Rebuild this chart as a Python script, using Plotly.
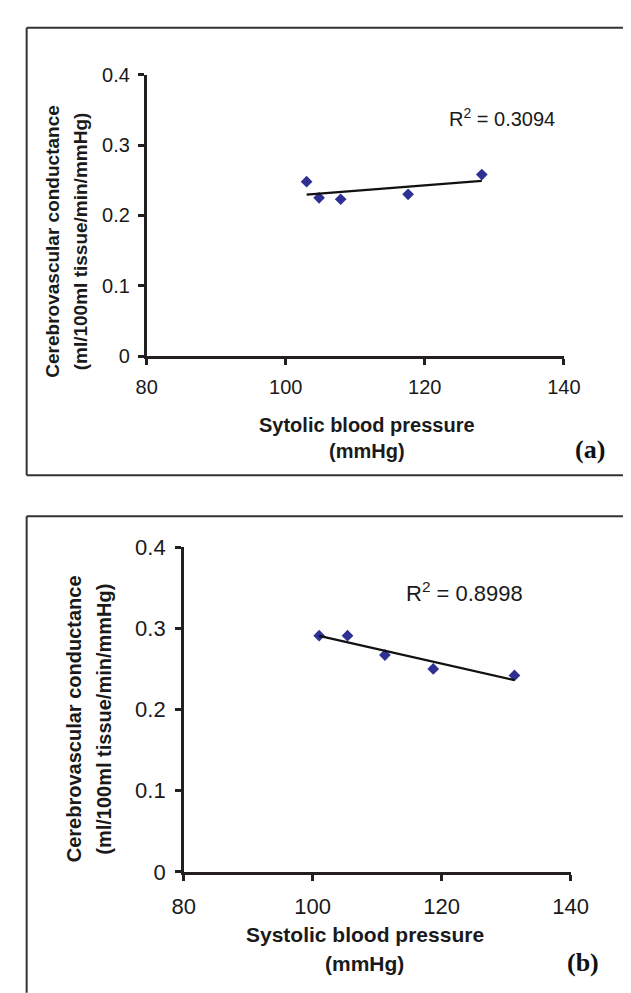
import numpy as np
import plotly.graph_objects as go

W, H = 631, 993

# ---- data ----
sbp_a = [103.0, 104.8, 107.9, 117.6, 128.2]
cvc_a = [0.248, 0.225, 0.223, 0.230, 0.258]
r2_a = "0.3094"

sbp_b = [101.0, 105.4, 111.2, 118.7, 131.3]
cvc_b = [0.291, 0.291, 0.267, 0.250, 0.242]
r2_b = "0.8998"

x_ticks = [80, 100, 120, 140]
y_ticks = [0, 0.1, 0.2, 0.3, 0.4]
y_tick_text = ["0", "0.1", "0.2", "0.3", "0.4"]

ytitle1 = "Cerebrovascular conductance"
ytitle2 = "(ml/100ml tissue/min/mmHg)"
xtitle_a = "Sytolic blood pressure"
xtitle_b = "Systolic blood pressure"
xunit = "(mmHg)"

AX = "#231f20"
MK = "#2e3192"
FONT = "Liberation Sans, Arial, sans-serif"
SERIF = "Liberation Serif, Times New Roman, serif"


def px(x):
    return x / W


def py(y):
    return 1 - y / H


fig = go.Figure()

for data_x, data_y, xa, ya in [(sbp_a, cvc_a, "x", "y"), (sbp_b, cvc_b, "x2", "y2")]:
    fig.add_trace(go.Scatter(x=data_x, y=data_y, mode="markers", xaxis=xa, yaxis=ya,
                             marker=dict(symbol="diamond", size=9, color=MK),
                             showlegend=False, hoverinfo="skip"))
    k, b = np.polyfit(data_x, data_y, 1)
    xs = np.array([min(data_x), max(data_x)])
    fig.add_trace(go.Scatter(x=xs, y=k * xs + b, mode="lines", xaxis=xa, yaxis=ya,
                             line=dict(color="#111111", width=2.2),
                             showlegend=False, hoverinfo="skip"))


def axis_style(fs, domain):
    return dict(domain=domain, showline=True, linecolor=AX, linewidth=2.5,
                ticks="outside", ticklen=6, tickwidth=2.5, tickcolor=AX,
                showgrid=False, zeroline=False, tickfont=dict(family=FONT, size=fs, color="#1a1a1a"))


xa = axis_style(20, [px(133), px(571)])
xa.update(range=[80, 140], tickvals=x_ticks, anchor="y", ticklabelstandoff=5)
ya = axis_style(20, [py(345), py(56)])
ya.update(range=[0, 0.4], tickvals=y_ticks, ticktext=y_tick_text, anchor="x", ticklabelstandoff=4)
xb = axis_style(22, [px(172), px(578)])
xb.update(range=[80, 140], tickvals=x_ticks, anchor="y2", ticklabelstandoff=7)
yb = axis_style(22, [py(874), py(540.7)])
yb.update(range=[0, 0.4], tickvals=y_ticks, ticktext=y_tick_text, anchor="x2", ticklabelstandoff=5)

annots = []


def txt(t, x, y, size, bold=False, angle=0, family=FONT, color="#1a1a1a"):
    annots.append(dict(text=("<b>%s</b>" % t) if bold else t, x=px(x), y=py(y), xref="paper", yref="paper",
                       xanchor="center", yanchor="middle", showarrow=False, textangle=angle,
                       font=dict(family=family, size=size, color=color)))


# panel a texts
txt(ytitle1, 34, 227, 19, bold=True, angle=-90)
txt(ytitle2, 63, 227, 19, bold=True, angle=-90)
txt(xtitle_a, 364, 415, 20, bold=True)
txt(xunit, 364, 442, 20, bold=True)
txt("R<sup>2</sup> = " + r2_a, 506, 100, 20)
txt("(a)", 598, 441, 26, bold=True, family=SERIF, color="#111")

# panel b texts
txt(ytitle1, 57, 717, 20, bold=True, angle=-90)
txt(ytitle2, 88, 717, 20, bold=True, angle=-90)
txt(xtitle_b, 362, 938, 21, bold=True)
txt(xunit, 362, 968, 21, bold=True)
txt("R<sup>2</sup> = " + r2_b, 467, 587, 22)
txt("(b)", 591, 967, 26, bold=True, family=SERIF, color="#111")

shapes = [
    # frame a: left, top, bottom (right edge runs off the page)
    dict(type="line", xref="paper", yref="paper", x0=px(7), x1=px(7), y0=py(8), y1=py(467),
         line=dict(color="#333", width=2)),
    dict(type="line", xref="paper", yref="paper", x0=px(7), x1=px(W + 5), y0=py(8), y1=py(8),
         line=dict(color="#333", width=2)),
    dict(type="line", xref="paper", yref="paper", x0=px(7), x1=px(W + 5), y0=py(467), y1=py(467),
         line=dict(color="#333", width=2)),
    # frame b: left, top
    dict(type="line", xref="paper", yref="paper", x0=px(7), x1=px(7), y0=py(509), y1=py(H + 5),
         line=dict(color="#333", width=2)),
    dict(type="line", xref="paper", yref="paper", x0=px(7), x1=px(W + 5), y0=py(509), y1=py(509),
         line=dict(color="#333", width=2)),
]

fig.update_layout(width=W, height=H, margin=dict(l=0, r=0, t=0, b=0),
                  paper_bgcolor="white", plot_bgcolor="white",
                  xaxis=xa, yaxis=ya, xaxis2=xb, yaxis2=yb,
                  annotations=annots, shapes=shapes, showlegend=False)

fig.write_html("out.html")
